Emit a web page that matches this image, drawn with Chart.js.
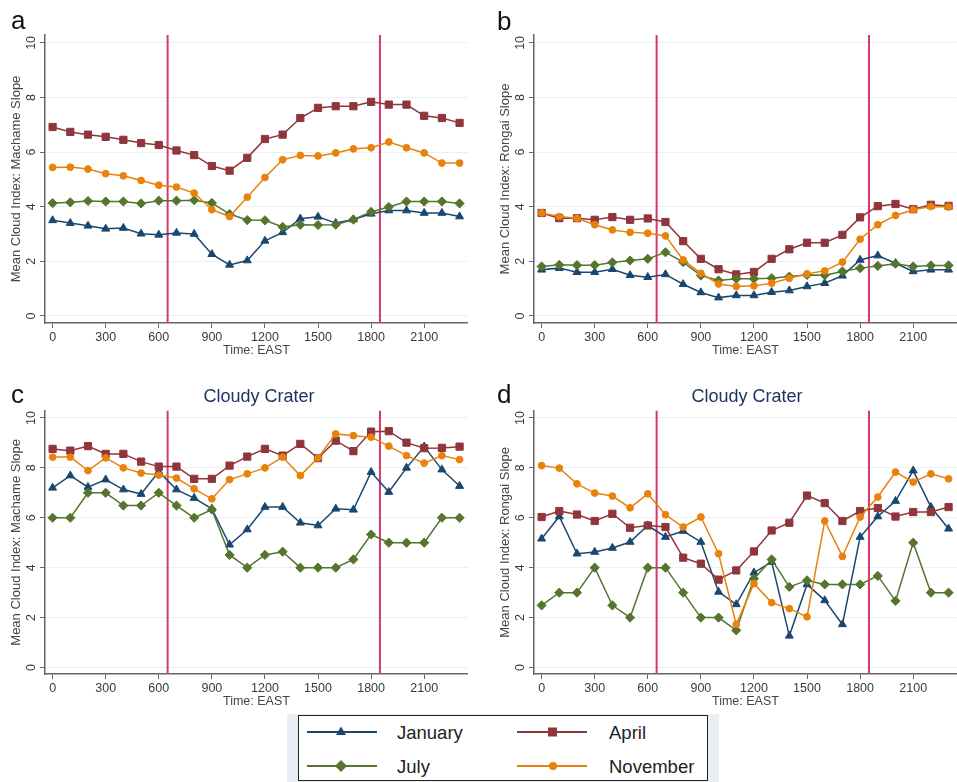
<!DOCTYPE html>
<html>
<head>
<meta charset="utf-8">
<script src="https://cdn.jsdelivr.net/npm/chart.js@4.4.1/dist/chart.umd.min.js"></script>
<style>
  html, body { margin:0; padding:0; width:957px; height:782px; overflow:hidden; background:#fff; font-family:"Liberation Sans", Arial, sans-serif; }
  canvas { position:absolute; }
  .letter { position:absolute; font-size:26px; line-height:26px; color:#111; }
  .ptitle { position:absolute; font-size:18px; line-height:18px; color:#1e3560; width:300px; text-align:center; }
  #legbg { position:absolute; left:287px; top:714px; width:432px; height:68px; background:#e9eff4; }
  #legbox { position:absolute; left:298px; top:715px; width:408px; height:64px; background:#fff; border:1px solid #222; }
  .legtxt { position:absolute; font-size:18.5px; line-height:18.5px; color:#222; }
  .legsvg { position:absolute; }
</style>
</head>
<body>
<canvas id="ca" width="474" height="360" style="left:0px;top:0px"></canvas>
<canvas id="cb" width="474" height="360" style="left:489px;top:0px"></canvas>
<canvas id="cc" width="474" height="340" style="left:0px;top:370px"></canvas>
<canvas id="cd" width="474" height="340" style="left:489px;top:370px"></canvas>

<div class="letter" style="left:11px;top:7px">a</div>
<div class="letter" style="left:497px;top:8px">b</div>
<div class="letter" style="left:11px;top:381px">c</div>
<div class="letter" style="left:497px;top:381px">d</div>
<div class="ptitle" style="left:109px;top:387px">Cloudy Crater</div>
<div class="ptitle" style="left:597px;top:387px">Cloudy Crater</div>

<div id="legbg"></div>
<div id="legbox"></div>
<svg class="legsvg" style="left:305px;top:724px" width="74" height="16">
  <line x1="2" y1="8" x2="72" y2="8" stroke="#1a476f" stroke-width="2"/>
  <polygon points="36,2.5 41,11 31,11" fill="#1a476f"/>
</svg>
<svg class="legsvg" style="left:515px;top:724px" width="74" height="16">
  <line x1="2" y1="8" x2="72" y2="8" stroke="#90353b" stroke-width="2"/>
  <rect x="33" y="3.5" width="9" height="9" fill="#90353b"/>
</svg>
<svg class="legsvg" style="left:305px;top:758px" width="74" height="16">
  <line x1="2" y1="8" x2="72" y2="8" stroke="#55752f" stroke-width="2"/>
  <polygon points="36,2 42,8 36,14 30,8" fill="#55752f"/>
</svg>
<svg class="legsvg" style="left:515px;top:758px" width="74" height="16">
  <line x1="2" y1="8" x2="72" y2="8" stroke="#e8820c" stroke-width="2"/>
  <circle cx="38" cy="8" r="4" fill="#e8820c"/>
</svg>
<div class="legtxt" style="left:397px;top:724px">January</div>
<div class="legtxt" style="left:609px;top:724px">April</div>
<div class="legtxt" style="left:397px;top:758px">July</div>
<div class="legtxt" style="left:609px;top:758px">November</div>

<script>
// ---------- data ----------
const hours = [0,100,200,300,400,500,600,700,800,900,1000,1100,1200,1300,1400,1500,1600,1700,1800,1900,2000,2100,2200,2300];
const xTicks = [0,300,600,900,1200,1500,1800,2100];
const yTicks = [0,2,4,6,8,10];
const refLines = [650,1850];
const seriesNames = ["January","April","July","November"];

const a_jan = [3.50,3.40,3.30,3.19,3.22,3.01,2.97,3.04,3.00,2.26,1.87,2.03,2.75,3.06,3.56,3.63,3.40,3.53,3.74,3.86,3.86,3.77,3.77,3.64];
const a_apr = [6.92,6.74,6.64,6.56,6.45,6.33,6.26,6.06,5.89,5.49,5.32,5.79,6.48,6.64,7.25,7.62,7.68,7.68,7.84,7.74,7.74,7.33,7.25,7.07];
const a_jul = [4.13,4.16,4.21,4.19,4.19,4.12,4.22,4.22,4.24,4.14,3.73,3.51,3.50,3.26,3.34,3.33,3.34,3.53,3.81,3.99,4.19,4.19,4.19,4.12];
const a_nov = [5.44,5.45,5.38,5.21,5.13,4.96,4.79,4.72,4.50,3.89,3.64,4.35,5.07,5.72,5.88,5.86,5.97,6.12,6.16,6.37,6.16,5.97,5.60,5.60];

const b_jan = [1.69,1.75,1.60,1.60,1.71,1.49,1.42,1.52,1.16,0.86,0.67,0.75,0.75,0.87,0.93,1.08,1.20,1.47,2.05,2.21,1.93,1.63,1.69,1.69];
const b_apr = [3.77,3.58,3.58,3.52,3.62,3.52,3.57,3.44,2.74,2.09,1.71,1.52,1.61,2.09,2.44,2.68,2.68,2.97,3.61,4.02,4.10,3.91,4.07,4.03];
const b_jul = [1.81,1.87,1.86,1.86,1.96,2.03,2.09,2.33,1.97,1.48,1.30,1.36,1.36,1.38,1.44,1.50,1.49,1.63,1.75,1.83,1.91,1.81,1.85,1.85];
const b_nov = [3.77,3.64,3.58,3.34,3.15,3.06,3.03,2.93,2.05,1.56,1.17,1.08,1.10,1.20,1.38,1.54,1.65,1.97,2.81,3.34,3.68,3.89,4.01,3.99];

const c_jan = [7.20,7.69,7.23,7.53,7.13,6.95,7.85,7.13,6.79,6.36,4.92,5.53,6.43,6.43,5.80,5.69,6.36,6.32,7.83,7.03,8.00,8.85,7.93,7.27];
const c_apr = [8.76,8.69,8.87,8.56,8.56,8.25,8.05,8.05,7.56,7.56,8.09,8.45,8.76,8.49,8.96,8.39,9.09,8.67,9.45,9.47,9.01,8.79,8.80,8.85];
const c_jul = [6.00,6.00,7.00,7.00,6.49,6.49,7.00,6.49,6.00,6.33,4.51,4.00,4.51,4.64,4.00,4.00,4.00,4.33,5.33,5.00,5.00,5.00,6.00,6.00];
const c_nov = [8.43,8.43,7.89,8.40,8.00,7.79,7.71,7.59,7.16,6.76,7.53,7.76,8.00,8.43,7.69,8.40,9.36,9.29,9.23,8.87,8.49,8.19,8.49,8.33];

const d_jan = [5.16,6.05,4.56,4.63,4.79,5.03,5.69,5.23,5.47,5.03,3.03,2.53,3.80,4.23,1.27,3.33,2.69,1.73,5.23,6.05,6.67,7.89,6.43,5.56];
const d_apr = [6.03,6.27,6.13,5.87,6.16,5.60,5.69,5.63,4.40,4.16,3.52,3.89,4.65,5.49,5.80,6.89,6.59,5.87,6.27,6.39,6.05,6.23,6.23,6.43];
const d_jul = [2.49,3.00,3.00,4.00,2.49,2.00,4.00,4.00,3.00,2.00,2.00,1.49,3.56,4.33,3.23,3.49,3.33,3.33,3.33,3.67,2.67,5.00,3.00,3.00];
const d_nov = [8.09,7.99,7.36,6.99,6.87,6.40,6.96,6.12,5.63,6.03,4.56,1.73,3.36,2.60,2.36,2.03,5.87,4.45,6.03,6.83,7.83,7.43,7.76,7.56];

// ---------- styles ----------
const FONT = '"Liberation Sans", Arial, sans-serif';
const colors = { January:'#1a476f', April:'#90353b', July:'#55752f', November:'#e8820c' };
const markers = { January:['triangle',4.6], April:['rect',5.1], July:['rectRot',4.6], November:['circle',3.4] };
const drawOrder = { January:4, April:3, July:2, November:1 };
const refColor = '#d5396b';

const refLinePlugin = {
  id: 'refLines',
  beforeDatasetsDraw(chart) {
    const { ctx, chartArea, scales } = chart;
    ctx.save();
    ctx.strokeStyle = refColor;
    ctx.lineWidth = 2;
    refLines.forEach(v => {
      const px = scales.x.getPixelForValue(v);
      ctx.beginPath();
      ctx.moveTo(px, chartArea.top);
      ctx.lineTo(px, chartArea.bottom);
      ctx.stroke();
    });
    ctx.restore();
  }
};

function makeChart(id, valuesList, yTitle, padTop) {
  const datasets = seriesNames.map((name, i) => ({
    label: name,
    data: hours.map((h, j) => ({ x: h, y: valuesList[i][j] })),
    borderColor: colors[name],
    backgroundColor: colors[name],
    borderWidth: 1.5,
    pointStyle: markers[name][0],
    pointRadius: markers[name][1],
    pointBorderWidth: 1,
    pointBackgroundColor: colors[name],
    pointBorderColor: colors[name],
    tension: 0,
    order: drawOrder[name]
  }));
  new Chart(document.getElementById(id), {
    type: 'line',
    data: { datasets },
    plugins: [refLinePlugin],
    options: {
      responsive: false,
      animation: false,
      devicePixelRatio: 1,
      layout: { padding: { left: 9, right: 3, top: padTop, bottom: 0.5 + (padTop < 36 ? 1 : 0) } },
      plugins: { legend: { display: false }, tooltip: { enabled: false }, title: { display: false } },
      scales: {
        x: {
          type: 'linear', min: -43, max: 2347,
          afterBuildTicks: s => { s.ticks = xTicks.map(v => ({ value: v })); },
          afterFit: s => { s.height = 35.5; },
          ticks: { autoSkip: false, minRotation: 0, maxRotation: 0, padding: 2, color: '#3a3a3a',
                   font: { family: FONT, size: 12.5 }, callback: v => String(v) },
          grid: { drawOnChartArea: false, tickLength: 5, tickColor: '#666', tickWidth: 1 },
          border: { color: '#666', width: 1.5 },
          title: { display: true, text: 'Time: EAST', color: '#444', font: { family: FONT, size: 12.5 },
                   padding: { top: 0, bottom: 0 } }
        },
        y: {
          min: -0.26, max: 10.29,
          afterBuildTicks: s => { s.ticks = yTicks.map(v => ({ value: v })); },
          afterFit: s => { s.width = 36; },
          ticks: { minRotation: 90, maxRotation: 90, crossAlign: 'center', padding: 2, color: '#3a3a3a',
                   font: { family: FONT, size: 12.5 }, callback: v => String(v) },
          grid: { color: '#edf0f2', lineWidth: 1, tickLength: 5, tickColor: '#666', tickWidth: 1 },
          border: { color: '#666', width: 1.5 },
          title: { display: true, text: yTitle, color: '#444', font: { family: FONT, size: 13 },
                   padding: { top: 0, bottom: 0 } }
        }
      }
    }
  });
}

makeChart('ca', [a_jan, a_apr, a_jul, a_nov], 'Mean Cloud Index: Machame Slope', 35);
makeChart('cb', [b_jan, b_apr, b_jul, b_nov], 'Mean Cloud Index: Rongai Slope', 35);
makeChart('cc', [c_jan, c_apr, c_jul, c_nov], 'Mean Cloud Index: Machame Slope', 40.7);
makeChart('cd', [d_jan, d_apr, d_jul, d_nov], 'Mean Cloud Index: Rongai Slope', 40.7);
</script>
</body>
</html>
